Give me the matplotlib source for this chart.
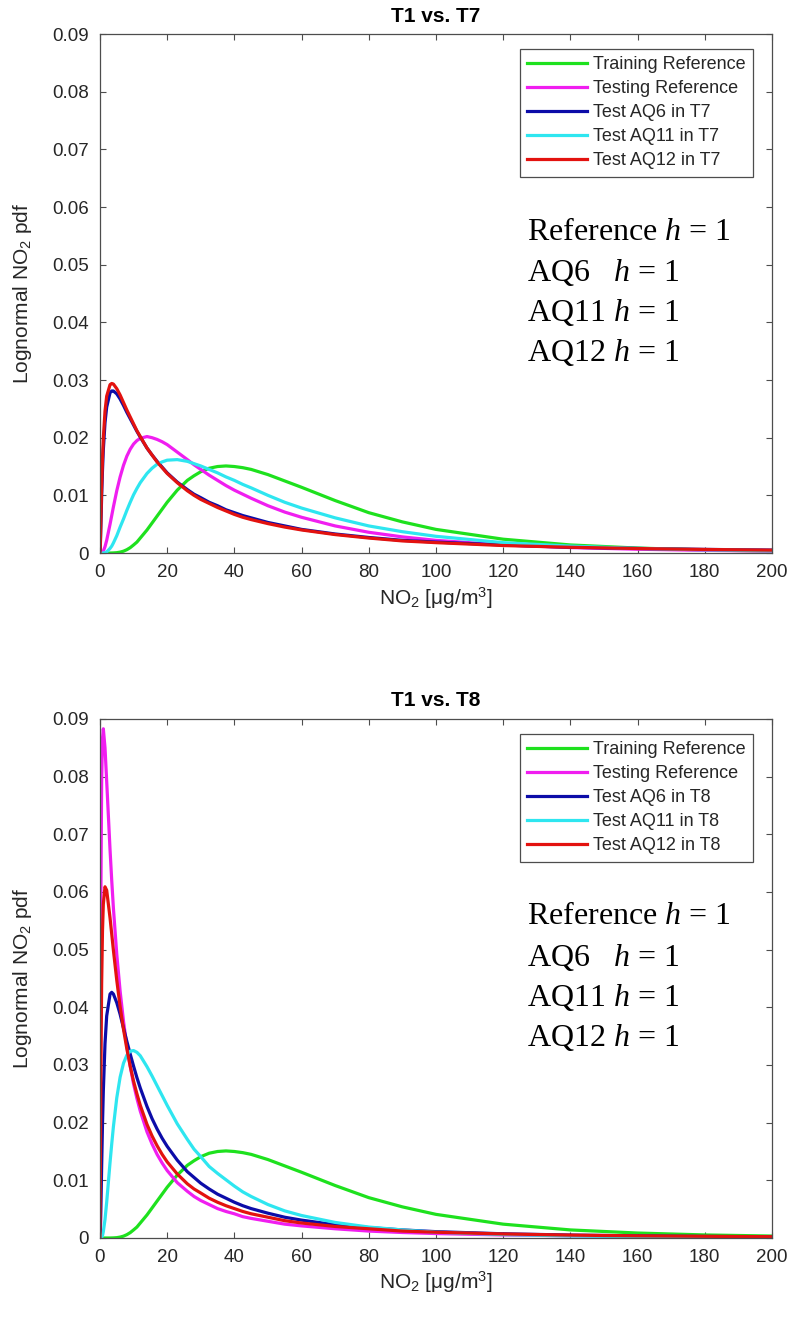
import matplotlib
matplotlib.use('Agg')
import matplotlib.pyplot as plt
from matplotlib.ticker import FuncFormatter

plt.rcParams['font.family'] = 'Liberation Sans'
plt.rcParams['mathtext.fontset'] = 'custom'
plt.rcParams['mathtext.rm'] = 'Liberation Sans'
plt.rcParams['mathtext.it'] = 'Liberation Serif:italic'

# NO2 concentration grid [ug/m3] and the pdf values read at each point
no2 = [0, 0.1, 0.25, 0.5, 0.75, 1, 1.5, 2, 3, 3.5, 4, 5, 6, 7, 8, 9, 10, 11, 12, 14, 15.5,
       17, 18.5, 20, 23, 26, 28, 30, 32.5, 35, 37.5, 40, 42.5, 45, 50, 55, 60, 70, 80, 90,
       100, 120, 140, 160, 180, 200]

training_ref = [0, 0, 0, 0, 0, 0, 0, 0, 0, 0.00001, 0.00002, 0.00006, 0.00016, 0.00032,
                0.00058, 0.00093, 0.0014, 0.0019, 0.0026, 0.0040, 0.0052, 0.0064, 0.0076,
                0.0088, 0.0109, 0.0126, 0.0134, 0.0141, 0.0147, 0.0150, 0.0151, 0.0150, 0.0148,
                0.0145, 0.0136, 0.0125, 0.0114, 0.0091, 0.0070, 0.0054, 0.0041, 0.0024, 0.0014,
                0.00086, 0.00053, 0.00034]

# T1 vs. T7
t7_testing_ref = [0, 0, 0, 0.00003, 0.00013, 0.00034, 0.0011, 0.0022, 0.0050, 0.0065, 0.0080,
                  0.0108, 0.0132, 0.0152, 0.0168, 0.0180, 0.0189, 0.0195, 0.0199, 0.0202, 0.0200,
                  0.0197, 0.0193, 0.0188, 0.0175, 0.0162, 0.0153, 0.0145, 0.0135, 0.0126, 0.0117,
                  0.0109, 0.0102, 0.0095, 0.0082, 0.0071, 0.0062, 0.0047, 0.0036, 0.0028, 0.0022,
                  0.0014, 0.00095, 0.00066, 0.00047, 0.00034]
t7_aq6 = [0, 0.00096, 0.0043, 0.0099, 0.0144, 0.0179, 0.0226, 0.0253, 0.0278, 0.0281, 0.0281,
          0.0276, 0.0267, 0.0256, 0.0244, 0.0233, 0.0222, 0.0211, 0.0201, 0.0182, 0.0170, 0.0159,
          0.0149, 0.0139, 0.0123, 0.0110, 0.0102, 0.0096, 0.0088, 0.0082, 0.0075, 0.0070, 0.0065,
          0.0061, 0.0053, 0.0047, 0.0041, 0.0033, 0.0027, 0.0022, 0.0019, 0.0014, 0.0010, 0.0008,
          0.00063, 0.00051]
t7_aq11 = [0, 0, 0, 0, 0, 0.00001, 0.00006, 0.0002, 0.0008, 0.0012, 0.00175, 0.0030, 0.0045,
           0.0059, 0.0074, 0.0088, 0.0101, 0.0112, 0.0122, 0.0138, 0.0147, 0.0154, 0.0158, 0.0161,
           0.0162, 0.0159, 0.0155, 0.0151, 0.0145, 0.0139, 0.0132, 0.0126, 0.0119, 0.0113, 0.0100,
           0.0088, 0.0078, 0.0061, 0.0047, 0.0037, 0.0029, 0.0018, 0.0012, 0.0008, 0.00056,
           0.0004]
t7_aq12 = [0, 0.00126, 0.0052, 0.0115, 0.0163, 0.0199, 0.0246, 0.0272, 0.0292, 0.0294, 0.0293,
           0.0285, 0.0274, 0.0261, 0.0248, 0.0236, 0.0224, 0.0212, 0.0202, 0.0182, 0.0170, 0.0158,
           0.0148, 0.0138, 0.0122, 0.0108, 0.0100, 0.0093, 0.0086, 0.0079, 0.0073, 0.0067, 0.0062,
           0.0058, 0.0051, 0.0045, 0.0040, 0.0032, 0.0026, 0.0021, 0.0018, 0.0013, 0.0010,
           0.00078, 0.00062, 0.0005]

# T1 vs. T8
t8_testing_ref = [0, 0.0267, 0.0572, 0.0792, 0.0866, 0.0883, 0.0850, 0.0792, 0.0673, 0.0620,
                  0.0572, 0.0492, 0.0428, 0.0376, 0.0333, 0.0298, 0.0267, 0.0242, 0.0220, 0.0184,
                  0.0163, 0.0145, 0.0130, 0.0117, 0.0096, 0.0081, 0.0072, 0.0065, 0.0058, 0.0051,
                  0.0046, 0.0042, 0.0037, 0.0034, 0.0029, 0.0024, 0.0021, 0.0016, 0.0012, 0.00095,
                  0.00077, 0.00053, 0.00038, 0.00028, 0.00021, 0.00017]
t8_aq6 = [0, 0.0007, 0.0044, 0.0124, 0.0197, 0.0255, 0.0337, 0.0385, 0.0423, 0.0426, 0.0423,
          0.0408, 0.0388, 0.0364, 0.0341, 0.0319, 0.0298, 0.0278, 0.0260, 0.0228, 0.0207, 0.0189,
          0.0173, 0.0159, 0.0135, 0.0115, 0.0105, 0.0095, 0.0085, 0.0076, 0.0069, 0.0062, 0.0056,
          0.0051, 0.0043, 0.0036, 0.0031, 0.0023, 0.0018, 0.0014, 0.0011, 0.00073, 0.00051,
          0.00037, 0.00027, 0.00021]
t8_aq11 = [0, 0, 0, 0.0001, 0.0004, 0.0011, 0.0032, 0.0062, 0.0131, 0.0163, 0.0193, 0.0243,
           0.0279, 0.0303, 0.0317, 0.0324, 0.0325, 0.0322, 0.0316, 0.0297, 0.0281, 0.0264, 0.0247,
           0.0230, 0.0198, 0.0171, 0.0154, 0.0141, 0.0124, 0.0112, 0.0101, 0.0090, 0.0080, 0.0072,
           0.0058, 0.0047, 0.0039, 0.0027, 0.0019, 0.0014, 0.0010, 0.0006, 0.00036, 0.00023,
           0.00015, 0.0001]
t8_aq12 = [0, 0.0097, 0.0267, 0.0441, 0.0532, 0.0579, 0.0609, 0.0603, 0.0555, 0.0527, 0.0499,
           0.0447, 0.0401, 0.0362, 0.0328, 0.0298, 0.0272, 0.0250, 0.0230, 0.0197, 0.0177, 0.0160,
           0.0145, 0.0132, 0.0111, 0.0094, 0.0085, 0.0078, 0.0069, 0.0062, 0.0056, 0.0051, 0.0046,
           0.0042, 0.0036, 0.0030, 0.0026, 0.0020, 0.0016, 0.0012, 0.0010, 0.0007, 0.0005,
           0.00037, 0.00029, 0.00023]

colors = ['#1ee11e', '#f01ef0', '#0c0ca8', '#2ee6f0', '#e3120f']
stations = ['AQ6', 'AQ11', 'AQ12']
h_lines = ['Reference $h$ = 1', 'AQ6   $h$ = 1', 'AQ11 $h$ = 1', 'AQ12 $h$ = 1']

axis_gray = '#4d4d4d'
text_gray = '#262626'


def draw_panel(ax, title, period, curves):
    labels = ['Training Reference', 'Testing Reference'] + \
             ['Test %s in %s' % (s, period) for s in stations]
    for y, c, lab in zip(curves, colors, labels):
        ax.plot(no2, y, color=c, lw=2.3, label=lab, solid_joinstyle='round')

    ax.set_xlim(0, 200)
    ax.set_ylim(0, 0.09)
    ax.set_xticks(range(0, 201, 20))
    ax.set_yticks([i / 100 for i in range(10)])
    ax.yaxis.set_major_formatter(FuncFormatter(lambda v, p: '%g' % round(v, 2)))
    ax.tick_params(direction='in', length=4, width=0.8, top=True, right=True,
                   colors=axis_gray, labelcolor=text_gray, labelsize=13.5)
    ax.tick_params(axis='x', pad=8)
    ax.tick_params(axis='y', pad=8)
    for sp in ax.spines.values():
        sp.set_color(axis_gray)
        sp.set_linewidth(0.9)

    ax.set_title(title, fontsize=15, fontweight='bold', color='black', pad=9)
    ax.set_xlabel(r'NO$_{\mathregular{2}}$ [μg/m$^{\mathregular{3}}$]', fontsize=15,
                  color=text_gray, labelpad=3)
    ax.set_ylabel(r'Lognormal NO$_{\mathregular{2}}$ pdf', fontsize=15, color=text_gray)
    ax.yaxis.set_label_coords(-0.098, 0.5)

    leg = ax.legend(loc='upper right', bbox_to_anchor=(0.972, 0.971), borderaxespad=0,
                    fontsize=13, handlelength=3.3, handletextpad=0.35,
                    labelspacing=0.39, borderpad=0.4, fancybox=False, framealpha=1)
    leg.get_frame().set_edgecolor(axis_gray)
    leg.get_frame().set_linewidth(0.9)
    for t in leg.get_texts():
        t.set_color(text_gray)

    for i, s in enumerate(h_lines):
        ax.text(0.635, 0.6185 - i * 0.0772, s, transform=ax.transAxes, va='center',
                ha='left', fontsize=23, family='Liberation Serif', color='black')


fig = plt.figure(figsize=(7.94, 13.18), dpi=100)
ax1 = fig.add_axes([0.1259, 0.5804, 0.8463, 0.3938])
ax2 = fig.add_axes([0.1259, 0.0607, 0.8463, 0.3938])

draw_panel(ax1, 'T1 vs. T7', 'T7',
           [training_ref, t7_testing_ref, t7_aq6, t7_aq11, t7_aq12])
draw_panel(ax2, 'T1 vs. T8', 'T8',
           [training_ref, t8_testing_ref, t8_aq6, t8_aq11, t8_aq12])

fig.savefig('out.png', dpi=100)
